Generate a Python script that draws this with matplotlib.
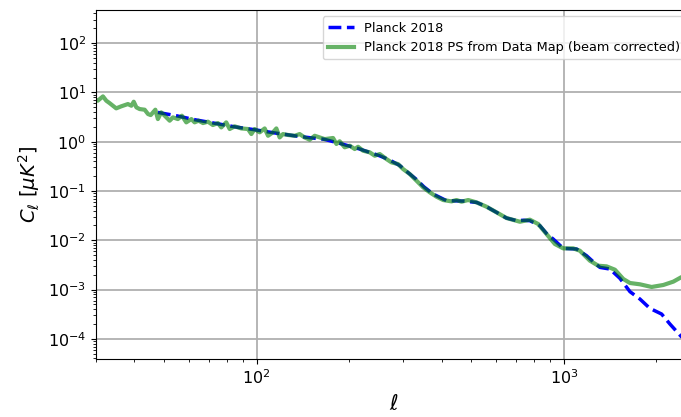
import numpy as np
import matplotlib
matplotlib.use('Agg')
import matplotlib.pyplot as plt
from matplotlib.ticker import NullFormatter

# Planck 2018 model spectrum
ell_model = [47.7, 55, 62.8, 75, 85, 98.5, 115, 135, 150, 166, 186, 216.6,
             251, 270, 292, 310, 331, 350, 375, 415, 470, 520, 560, 604,
             650, 702, 740, 775, 835, 880, 923, 995, 1100, 1185, 1250, 1310,
             1412, 1522, 1641, 1768, 1905, 2080, 2214, 2405, 2450]
cl_model = [3.93, 3.35, 2.8, 2.3, 2.0, 1.75, 1.5, 1.3, 1.2, 1.12, 0.93, 0.71,
            0.52, 0.43, 0.33, 0.24, 0.172, 0.122, 0.087, 0.0636, 0.0625,
            0.0587, 0.048, 0.0368, 0.0283, 0.025, 0.0255, 0.025, 0.0198,
            0.0135, 0.0106, 0.00686, 0.00665, 0.00487, 0.0036, 0.00282,
            0.00261, 0.00169, 0.000907, 0.000643, 0.000416, 0.000319, 0.0002,
            0.000113, 0.000102]

# power spectrum measured from the data map (beam corrected)
ell_data = [29.7, 30.4, 31.6, 32.4, 33.2, 34.9, 36.2, 38.1, 39.1, 39.8, 40.6,
            41.6, 43.2, 44.3, 45.2, 46.8, 47.7, 48.9, 50.2, 52.1, 53.4, 55.4,
            57.1, 59.0, 61.3, 62.8, 64.7, 66.9, 69.4, 72.0, 74.8, 76.7, 79.6,
            81.7, 84.8, 89.1, 93.7, 96.1, 98.5, 102.3, 106.2, 108.9, 113.0,
            115.9, 118.8, 121.8, 126.5, 133.0, 138.0, 143.3, 148.8, 154.5,
            166.5, 177.3, 181.8, 186.3, 193.4, 200.9, 208.6, 213.8, 222.0,
            233.4, 242.3, 251.6, 264.5, 274.6, 288.6, 299.6, 315.1, 331.3,
            348.3, 366.1, 384.9, 404.6, 430.7, 447.2, 464.3, 488.1, 519.4,
            559.9, 603.6, 650.5, 719.1, 774.8, 824.8, 878.0, 934.8, 994.9,
            1072, 1127, 1215, 1294, 1377, 1466, 1561, 1641, 1768, 1930, 2107,
            2271, 2405, 2450]
cl_data = [7.34, 6.79, 8.31, 6.79, 6.08, 4.75, 5.21, 5.81, 5.37, 6.48, 4.97,
           4.60, 4.46, 3.64, 3.47, 4.46, 2.88, 3.94, 3.37, 2.67, 3.12, 2.88,
           3.37, 2.47, 2.88, 2.47, 2.67, 2.39, 2.55, 2.18, 2.39, 1.95, 2.47,
           1.81, 2.05, 1.86, 1.81, 1.43, 1.81, 1.55, 1.86, 1.32, 1.55, 1.86,
           1.22, 1.43, 1.37, 1.32, 1.43, 1.22, 1.10, 1.32, 1.13, 1.19, 0.90,
           1.02, 0.77, 0.83, 0.71, 0.79, 0.657, 0.608, 0.52, 0.562, 0.445,
           0.381, 0.352, 0.279, 0.221, 0.162, 0.1185, 0.0938, 0.0766, 0.0656,
           0.0616, 0.0656, 0.0607, 0.0656, 0.0588, 0.048, 0.0369, 0.0283,
           0.0238, 0.0262, 0.0214, 0.0134, 0.0084, 0.00686, 0.00686, 0.00615,
           0.00386, 0.00305, 0.00296, 0.00253, 0.00164, 0.00136, 0.00128,
           0.00113, 0.00124, 0.00145, 0.00177, 0.00185]

fig = plt.figure(figsize=(6.81, 4.17), dpi=100)
# right edge of the axes runs a little past the figure, as in the reference
ax = fig.add_axes([0.141, 0.139, 0.875, 0.837])

ax.loglog(ell_model, cl_model, 'b--', lw=2.5, label='Planck 2018')
ax.loglog(ell_data, cl_data, 'g-', lw=3, alpha=0.6,
          label='Planck 2018 PS from Data Map (beam corrected)')

ax.set_xlim(30, 2610)
ax.set_ylim(3.9e-5, 470)
ax.xaxis.set_minor_formatter(NullFormatter())
ax.yaxis.set_minor_formatter(NullFormatter())
ax.grid(True, which='major', color='#b0b0b0', lw=1.3)
ax.tick_params(axis='both', which='major', labelsize=11.5)
ax.set_xlabel(r'$\ell$', fontsize=15, labelpad=5)
ax.set_ylabel(r'$C_\ell\ [\mu K^2]$', fontsize=14)
ax.legend(loc='upper right', fontsize=9.3)

fig.savefig('out.png', dpi=100)
